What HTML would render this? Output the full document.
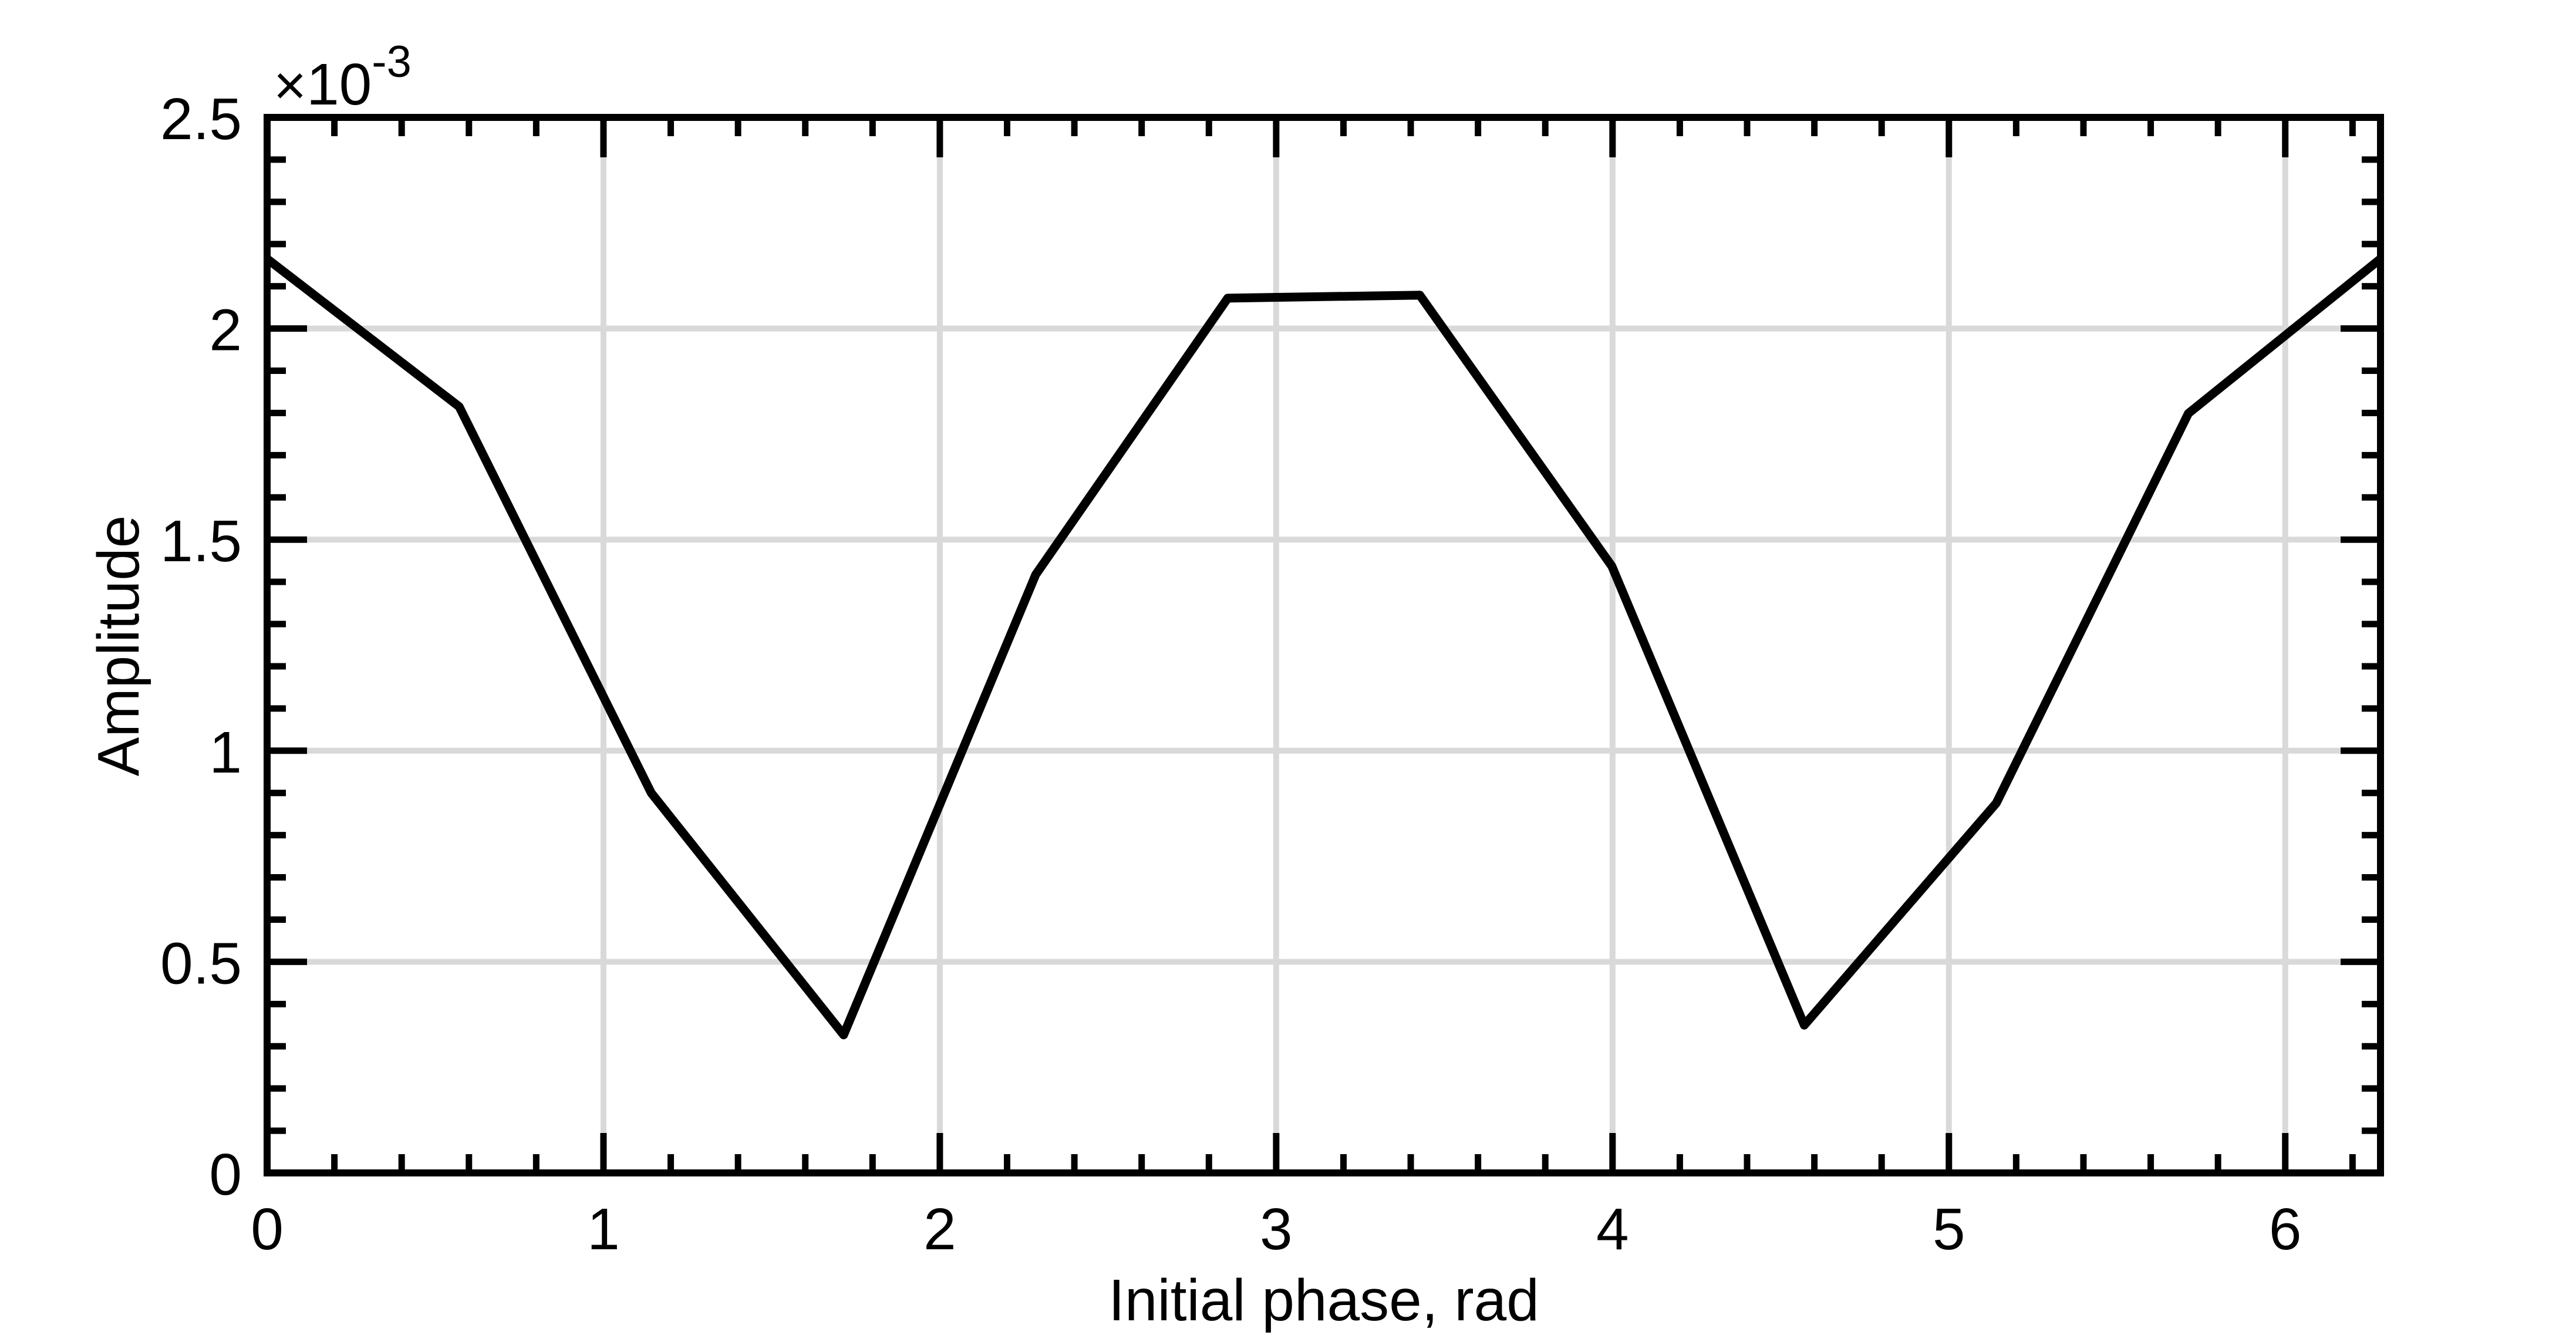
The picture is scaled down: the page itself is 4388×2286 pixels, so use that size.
<!DOCTYPE html>
<html><head><meta charset="utf-8"><style>
html,body{margin:0;padding:0;background:#fff;}
svg{display:block;}
text{font-family:"Liberation Sans",Arial,sans-serif;fill:#000;}
</style></head><body>
<svg id="chart" width="4388" height="2286" viewBox="0 0 4388 2286" xmlns="http://www.w3.org/2000/svg">
<g id="grid"></g>
<g id="ticks"></g>
<g id="series"></g>
<rect x="455" y="200" width="3600" height="1798" fill="none" stroke="#000" stroke-width="12"/>
<g id="labels"></g>
<text x="2255" y="2249" font-size="100" text-anchor="middle">Initial phase, rad</text>
<text transform="translate(236,1100) rotate(-90)" font-size="100" text-anchor="middle">Amplitude</text>
<text x="466" y="178" font-size="100"><tspan font-size="96" font-weight="200">×</tspan>10<tspan font-size="76" dy="-47">-3</tspan></text>
</svg>
<script>
const xTickLabels = ["0","1","2","3","4","5","6"];
const yTickLabels = ["0","0.5","1","1.5","2","2.5"];
const phases = [0,0.571,1.142,1.714,2.285,2.856,3.427,3.998,4.570,5.141,5.712,6.283];
const amplitudes = [2.165,1.815,0.90,0.327,1.417,2.072,2.079,1.437,0.350,0.876,1.799,2.165];

const L=455,R=4055,T=200,B=1998,XMAX=2*Math.PI,YMAX=2.5;
const NS="http://www.w3.org/2000/svg";
function xs(v){return L+(R-L)*v/XMAX;}
function ys(v){return B-(B-T)*v/YMAX;}
function mk(tag,attrs,parent){const e=document.createElementNS(NS,tag);for(const k in attrs)e.setAttribute(k,attrs[k]);parent.appendChild(e);return e;}
const grid=document.getElementById('grid'),ticks=document.getElementById('ticks'),labels=document.getElementById('labels'),series=document.getElementById('series');

xTickLabels.forEach(t=>{const v=parseFloat(t);const x=xs(v);
 const g=mk('line',{x1:x,x2:x,y1:T,y2:B,stroke:'#d9d9d9','stroke-width':10},grid);
 
 
 const tx=mk('text',{x:x,y:2128,'font-size':100,'text-anchor':'middle'},labels);tx.textContent=t;
 
 
});
yTickLabels.forEach(t=>{const v=parseFloat(t);const y=ys(v);
 if(v>0&&v<YMAX){const g=mk('line',{x1:L,x2:R,y1:y,y2:y,stroke:'#d9d9d9','stroke-width':10},grid);
 
 }
 const tx=mk('text',{x:412,y:y+37,'font-size':100,'text-anchor':'end'},labels);tx.textContent=t;
 
 
});
for(let i=0;i*0.2<=XMAX+1e-9;i++){const v=i*0.2;const x=xs(v);const len=(i%5===0)?68:32;
 mk('line',{x1:x,x2:x,y1:B,y2:B-len,stroke:'#000','stroke-width':11},ticks);
 mk('line',{x1:x,x2:x,y1:T,y2:T+len,stroke:'#000','stroke-width':11},ticks);}
for(let i=0;i<=25;i++){const v=i*0.1;const y=ys(v);const len=(i%5===0)?68:32;
 mk('line',{x1:L,x2:L+len,y1:y,y2:y,stroke:'#000','stroke-width':11},ticks);
 mk('line',{x1:R,x2:R-len,y1:y,y2:y,stroke:'#000','stroke-width':11},ticks);}

const pts=phases.map((p,i)=>xs(p)+','+ys(amplitudes[i])).join(' ');
const pl=mk('polyline',{points:pts,fill:'none',stroke:'#000','stroke-width':15,'stroke-linejoin':'round'},series);


</script>
</body></html>
